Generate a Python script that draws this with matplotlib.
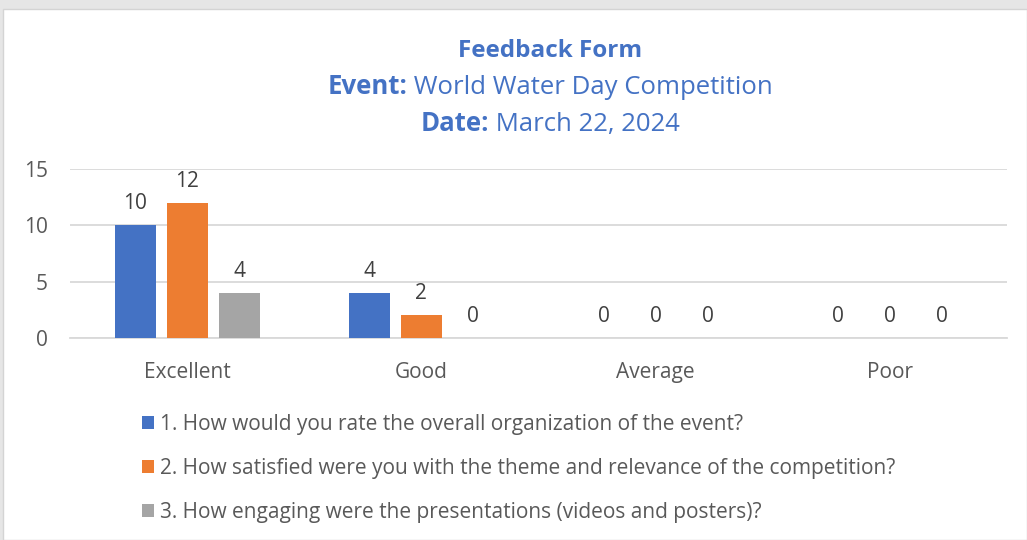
import matplotlib
matplotlib.use("Agg")
import matplotlib.pyplot as plt
from matplotlib.patches import Rectangle, Patch
import numpy as np

categories = ["Excellent", "Good", "Average", "Poor"]
series_names = [
    "1. How would you rate the overall organization of the event?",
    "2. How satisfied were you with the theme and relevance of the competition?",
    "3. How engaging were the presentations (videos and posters)?",
]
q1 = [10, 4, 0, 0]
q2 = [12, 2, 0, 0]
q3 = [4, 0, 0, 0]
yticks = [0, 5, 10, 15]

colors = ["#4472C4", "#ED7D31", "#A5A5A5"]
title_color = "#4472C4"
text_color = "#595959"
FONT = "Open Sans"
FS = 15

W, H = 1027, 540
fig = plt.figure(figsize=(W / 100, H / 100), dpi=100, facecolor="#E6E6E6")
fig.patches.append(Rectangle((3 / W, 0), 1 - 3 / W, (H - 9) / H, transform=fig.transFigure,
                             facecolor="white", edgecolor="#D4D4D4", linewidth=1.0, zorder=-5))

ax = fig.add_axes([70 / W, (H - 338) / H, (1007 - 70) / W, (338 - 169) / H], zorder=2)
ax.set_facecolor("none")
x = np.arange(len(categories))
bw = 0.175
step = 0.222
for i, (vals, c) in enumerate(zip([q1, q2, q3], colors)):
    bars = ax.bar(x + (i - 1) * step, vals, width=bw, color=c, zorder=3)
    ax.bar_label(bars, padding=8, fontsize=FS, color="#404040", family=FONT)

ax.set_xlim(-0.5, len(categories) - 0.5)
ax.set_ylim(0, 15)
ax.set_yticks(yticks)
ax.yaxis.grid(True, color="#D9D9D9", linewidth=1.3, zorder=0)
ax.set_axisbelow(True)
for s in ["top", "right", "left"]:
    ax.spines[s].set_visible(False)
ax.spines["bottom"].set_color("#D9D9D9")
ax.spines["bottom"].set_linewidth(1.3)
ax.set_xticks(x)
ax.set_xticklabels(categories)
ax.tick_params(axis="both", length=0, labelsize=FS, labelcolor=text_color)
ax.tick_params(axis="x", pad=17.5)
ax.tick_params(axis="y", pad=16)
for lab in ax.get_xticklabels() + ax.get_yticklabels():
    lab.set_family(FONT)

# title
TFS = 18.5
cx = 550 / W
fig.text(cx, 1 - 57 / H, "Feedback Form", ha="center", va="baseline", fontsize=17.5,
         fontweight="bold", color=title_color, family=FONT)

fig.canvas.draw()
renderer = fig.canvas.get_renderer()


def two_part(y, bold, normal):
    t1 = fig.text(0, 1 - y / H, bold, ha="left", va="baseline", fontsize=TFS,
                  fontweight="bold", color=title_color, family=FONT)
    t2 = fig.text(0, 1 - y / H, " " + normal, ha="left", va="baseline", fontsize=TFS,
                  color=title_color, family=FONT)
    w1 = t1.get_window_extent(renderer).width
    w2 = t2.get_window_extent(renderer).width
    start = cx * W - (w1 + w2) / 2
    t1.set_x(start / W)
    t2.set_x((start + w1) / W)


two_part(94, "Event:", "World Water Day Competition")
two_part(131, "Date:", "March 22, 2024")

handles = [Patch(facecolor=c, edgecolor="none") for c in colors]
leg = fig.legend(handles, series_names, loc="upper left", bbox_to_anchor=(123 / W, 1 - 395 / H),
                 frameon=False, labelspacing=1.1, handlelength=0.6,
                 handleheight=0.6, handletextpad=0.3, prop={"family": FONT, "size": FS})
for t in leg.get_texts():
    t.set_color(text_color)

fig.savefig("out.png", dpi=100, facecolor=fig.get_facecolor())
